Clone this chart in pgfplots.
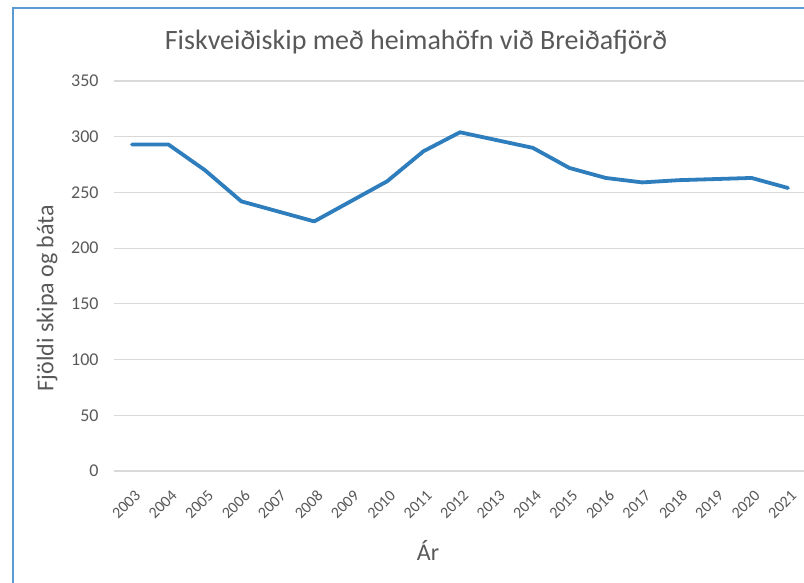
\documentclass[border=0pt]{standalone}
\usepackage{fontspec}
\setmainfont{Carlito}
\usepackage{pgfplots}
\pgfplotsset{compat=1.18}
\definecolor{txt}{RGB}{89,89,89}
\definecolor{gridc}{RGB}{217,217,217}
\definecolor{linec}{RGB}{46,125,189}
\definecolor{framec}{RGB}{91,155,213}
\begin{document}
\begin{tikzpicture}[x=1pt,y=1pt]
\useasboundingbox (0,0) rectangle (804,-582);
\fill[white] (0,0) rectangle (804,-582);
\draw[framec, line width=2pt] (12.5,-583) -- (12.5,-7.5) -- (806,-7.5);
\begin{axis}[
  at={(113.8pt,-471pt)}, anchor=south west,
  scale only axis, width=690.2pt, height=390pt,
  xmin=-0.5, xmax=18.44, ymin=0, ymax=350,
  axis line style={draw=none},
  xtick={0,...,18},
  xticklabels={2003,2004,2005,2006,2007,2008,2009,2010,2011,2012,2013,2014,2015,2016,2017,2018,2019,2020,2021},
  ytick={0,50,...,350},
  major tick length=0pt,
  ymajorgrids, grid style={gridc, line width=1.2pt},
  /pgf/number format/assume math mode=true,
  tick label style={text=txt},
  yticklabel style={font=\fontsize{18}{20}\selectfont, anchor=east, inner sep=0pt, xshift=-15pt},
  xticklabel style={font=\fontsize{16}{18}\selectfont, xshift=2pt, yshift=-18pt, rotate=45, anchor=north east, inner sep=0pt},
  clip=false,
]
\addplot[linec, line width=3.8pt, line join=round, line cap=round] coordinates {
(0,293) (1,293) (2,270) (3,242) (4,233) (5,224) (6,242) (7,260) (8,287) (9,304)
(10,297) (11,290) (12,272) (13,263) (14,259) (15,261) (16,262) (17,263) (18,254)
};
\end{axis}
\node[text=txt, font=\fontsize{28}{32}\selectfont] at (416,-42) {Fiskveiðiskip með heimahöfn við Breiðafjörð};
\node[text=txt, font=\fontsize{24}{28}\selectfont, rotate=90] at (47,-298) {Fjöldi skipa og báta};
\node[text=txt, font=\fontsize{24}{28}\selectfont] at (428,-550) {Ár};
\end{tikzpicture}
\end{document}
